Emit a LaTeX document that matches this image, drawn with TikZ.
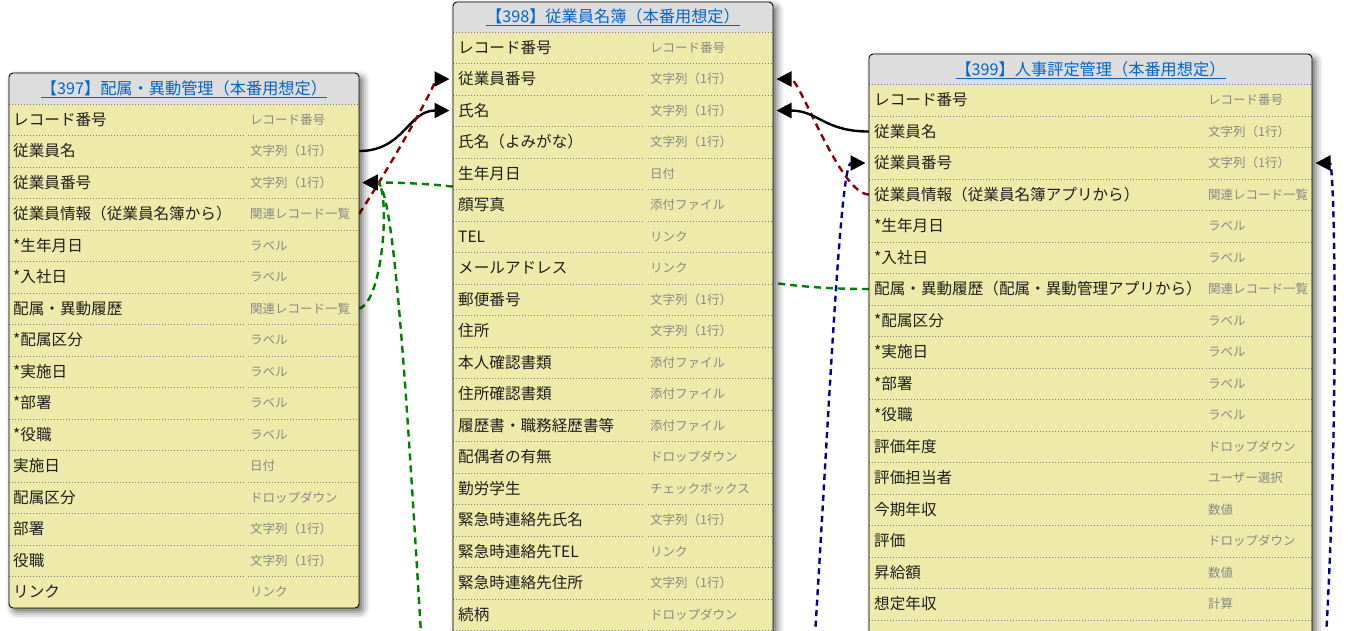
\documentclass[tikz,border=0pt]{standalone}
\usepackage{fontspec}
\setmainfont{Noto Sans CJK JP}
\usetikzlibrary{arrows.meta,shadows.blur}
\pgfdeclarelayer{bg}
\pgfsetlayers{bg,main}
\definecolor{khaki}{HTML}{EEEBAA}
\definecolor{hdrgray}{HTML}{DDDDDD}
\definecolor{sepgray}{HTML}{777788}
\definecolor{nametext}{HTML}{1E1E1E}
\definecolor{typetext}{HTML}{888888}
\definecolor{linkblue}{HTML}{0066CC}
\definecolor{relred}{HTML}{8B0000}
\definecolor{relgreen}{HTML}{008000}
\definecolor{relblue}{HTML}{00008B}
\begin{document}
\begin{tikzpicture}[x=1pt,y=-1pt,
  tbox/.style={fill=khaki, inner sep=0pt, outer sep=0pt, rounded corners=4pt,
    blur shadow={shadow xshift=4pt, shadow yshift=-4pt, shadow blur radius=7pt, shadow opacity=60}},
  tborder/.style={draw=black, line width=0.9pt, rounded corners=4pt},
  sep/.style={draw=sepgray, line width=0.8pt, dash pattern=on 1pt off 2pt},
  fname/.style={anchor=base west, inner sep=0pt, font=\fontsize{15.6}{18}\selectfont, text=nametext},
  ftype/.style={anchor=base west, inner sep=0pt, font=\fontsize{12.5}{15}\selectfont, text=typetext},
  ttl/.style={anchor=base, inner sep=0pt, font=\fontsize{16.2}{19}\selectfont, text=linkblue},
  conn/.style={line width=2.4pt, shorten >=3.5pt, -{Triangle[length=15pt,width=15pt,color=black]}},
  rel/.style={conn, dash pattern=on 7pt off 5pt},
  relb/.style={conn, dash pattern=on 6pt off 4.5pt},
]
\useasboundingbox (0,0) rectangle (1348,630);
\clip (0,0) rectangle (1348,630);

% ---------------- table 397 ----------------
\node[tbox, minimum width=350pt, minimum height=535pt, anchor=north west] (T397) at (9,73) {};
\fill[hdrgray, rounded corners=4pt] (9,73) rectangle (359,104);
\fill[hdrgray] (9,92) rectangle (359,104);
\node[ttl] (H397) at (184,94) {\underline{【397】配属・異動管理（本番用想定）}};
\draw[sep] (9,104) -- (359,104);
\foreach \n/\t [count=\i] in {
  レコード番号/レコード番号,
  従業員名/文字列（1行）,
  従業員番号/文字列（1行）,
  従業員情報（従業員名簿から）/関連レコード一覧,
  *生年月日/ラベル,
  *入社日/ラベル,
  配属・異動履歴/関連レコード一覧,
  *配属区分/ラベル,
  *実施日/ラベル,
  *部署/ラベル,
  *役職/ラベル,
  実施日/日付,
  配属区分/ドロップダウン,
  部署/文字列（1行）,
  役職/文字列（1行）,
  リンク/リンク}{
  \node[fname] (L\i) at (13,{104+(\i-0.5)*31.5+5.7}) {\n};
  \node[ftype] (LT\i) at (250,{104+(\i-0.5)*31.5+4.6}) {\t};
  \ifnum\i<16
  \draw[sep] (9,{104+\i*31.5}) -- (245,{104+\i*31.5}) (248,{104+\i*31.5}) -- (359,{104+\i*31.5});
  \fi
}
\draw[tborder] (T397.north west) rectangle (T397.south east);

% ---------------- table 398 ----------------
\node[tbox, minimum width=320pt, minimum height=668pt, anchor=north west] (T398) at (453,2) {};
\fill[hdrgray, rounded corners=4pt] (453,2) rectangle (773,32);
\fill[hdrgray] (453,20) rectangle (773,32);
\node[ttl] (H398) at (613,22.5) {\underline{【398】従業員名簿（本番用想定）}};
\draw[sep] (453,32) -- (773,32);
\foreach \n/\t [count=\i] in {
  レコード番号/レコード番号,
  従業員番号/文字列（1行）,
  氏名/文字列（1行）,
  氏名（よみがな）/文字列（1行）,
  生年月日/日付,
  顔写真/添付ファイル,
  TEL/リンク,
  メールアドレス/リンク,
  郵便番号/文字列（1行）,
  住所/文字列（1行）,
  本人確認書類/添付ファイル,
  住所確認書類/添付ファイル,
  履歴書・職務経歴書等/添付ファイル,
  配偶者の有無/ドロップダウン,
  勤労学生/チェックボックス,
  緊急時連絡先氏名/文字列（1行）,
  緊急時連絡先TEL/リンク,
  緊急時連絡先住所/文字列（1行）,
  続柄/ドロップダウン}{
  \node[fname] (M\i) at (458,{32+(\i-0.5)*31.5+5.7}) {\n};
  \node[ftype] (MT\i) at (650,{32+(\i-0.5)*31.5+4.6}) {\t};
  \draw[sep] (453,{32+\i*31.5}) -- (645,{32+\i*31.5}) (648,{32+\i*31.5}) -- (773,{32+\i*31.5});
}
\draw[tborder] (T398.north west) rectangle (T398.south east);

% ---------------- table 399 ----------------
\node[tbox, minimum width=443pt, minimum height=626pt, anchor=north west] (T399) at (869,54) {};
\fill[hdrgray, rounded corners=4pt] (869,54) rectangle (1312,84.5);
\fill[hdrgray] (869,72) rectangle (1312,84.5);
\node[ttl] (H399) at (1090.5,75) {\underline{【399】人事評定管理（本番用想定）}};
\draw[sep] (869,84.5) -- (1312,84.5);
\foreach \n/\t [count=\i] in {
  レコード番号/レコード番号,
  従業員名/文字列（1行）,
  従業員番号/文字列（1行）,
  従業員情報（従業員名簿アプリから）/関連レコード一覧,
  *生年月日/ラベル,
  *入社日/ラベル,
  配属・異動履歴（配属・異動管理アプリから）/関連レコード一覧,
  *配属区分/ラベル,
  *実施日/ラベル,
  *部署/ラベル,
  *役職/ラベル,
  評価年度/ドロップダウン,
  評価担当者/ユーザー選択,
  今期年収/数値,
  評価/ドロップダウン,
  昇給額/数値,
  想定年収/計算}{
  \node[fname] (R\i) at (874,{84.5+(\i-0.5)*31.5+5.7}) {\n};
  \node[ftype] (RT\i) at (1208,{84.5+(\i-0.5)*31.5+4.6}) {\t};
  \draw[sep] (869,{84.5+\i*31.5}) -- (1203,{84.5+\i*31.5}) (1206,{84.5+\i*31.5}) -- (1312,{84.5+\i*31.5});
}
\draw[tborder] (T399.north west) rectangle (T399.south east);

% ---------------- connectors ----------------
\coordinate (gfree) at (425,700);
\coordinate (bfree1) at (811,700);
\coordinate (bfree2) at (1322,700);
\begin{pgfonlayer}{bg}
\draw[conn, black] (T397.east |- L2) .. controls +(45,0) and +(-45,0) .. (T398.west |- M3);
\draw[rel, relred] (T397.east |- L4) .. controls +(26,-39) and +(-13,0) .. (T398.west |- M2);
\draw[rel, relgreen] (T399.west |- R7) .. controls +(-250,0) and +(260,0) .. (T397.east |- L3);
\draw[rel, relgreen] (T397.east |- L7) .. controls +(26,-8) and +(31,0) .. (T397.east |- L3);
\draw[rel, relgreen] (gfree) .. controls +(-17,-280) and +(36,0) .. (T397.east |- L3);
\draw[rel, relred] (T399.west |- R4) .. controls +(-29,0) and +(27,0) .. (T398.east |- M2);
\draw[conn, black] (T399.west |- R2) .. controls +(-45,0) and +(45,0) .. (T398.east |- M3);
\draw[relb, relblue] (bfree1) .. controls +(19,-300) and +(-29,0) .. (T399.west |- R3);
\draw[relb, relblue] (bfree2) .. controls +(18,-250) and +(23,0) .. (T399.east |- R3);
\end{pgfonlayer}
\end{tikzpicture}
\end{document}
